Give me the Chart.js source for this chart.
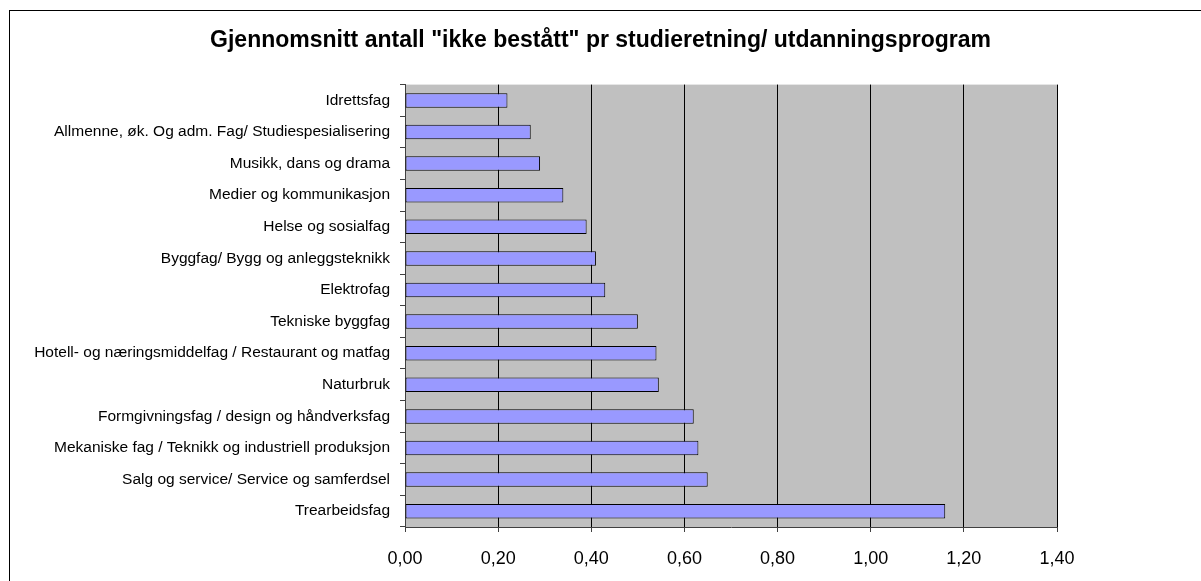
<!DOCTYPE html>
<html>
<head>
<meta charset="utf-8">
<script src="https://cdn.jsdelivr.net/npm/chart.js@4/dist/chart.umd.min.js"></script>
<style>
  body { margin: 0; background: #fff; }
</style>
</head>
<body>
<canvas id="barChart" width="1201" height="581"></canvas>
<script>
const categories = [
  'Idrettsfag',
  'Allmenne, øk. Og adm. Fag/ Studiespesialisering',
  'Musikk, dans og drama',
  'Medier og kommunikasjon',
  'Helse og sosialfag',
  'Byggfag/ Bygg og anleggsteknikk',
  'Elektrofag',
  'Tekniske byggfag',
  'Hotell- og næringsmiddelfag / Restaurant og matfag',
  'Naturbruk',
  'Formgivningsfag / design og håndverksfag',
  'Mekaniske fag / Teknikk og industriell produksjon',
  'Salg og service/ Service og samferdsel',
  'Trearbeidsfag'
];
const averages = [0.22, 0.27, 0.29, 0.34, 0.39, 0.41, 0.43, 0.50, 0.54, 0.545, 0.62, 0.63, 0.65, 1.16];
const axisMin = 0;
const axisMax = 1.4;
const axisStep = 0.2;

// grey plot area + outer chart border
const chartFrame = {
  id: 'chartFrame',
  afterLayout(chart) {
    // centre the title on the whole page, not on the padded area
    const t = chart.titleBlock;
    if (t) { t.left = 0; t.right = chart.width; t.width = chart.width; }
  },
  beforeDraw(chart) {
    const c = chart.ctx, a = chart.chartArea;
    c.save();
    c.fillStyle = '#ffffff';
    c.fillRect(0, 0, chart.width, chart.height);
    c.fillStyle = '#C0C0C0';
    c.fillRect(a.left, a.top, a.right - a.left, a.bottom - a.top);
    c.strokeStyle = '#000000';
    c.lineWidth = 1;
    c.strokeRect(9.5, 10.5, chart.width + 20, chart.height + 20);
    c.restore();
  }
};

const ctx = document.getElementById('barChart').getContext('2d');

var myChart = new Chart(ctx, {
  type: 'bar',
  data: {
    labels: categories,
    datasets: [{
      data: averages,
      backgroundColor: '#9999FF',
      borderColor: '#000000',
      borderWidth: 1,
      borderSkipped: false,
      barPercentage: 0.46,
      categoryPercentage: 1
    }]
  },
  options: {
    indexAxis: 'y',
    responsive: false,
    animation: false,
    devicePixelRatio: 1,
    layout: { padding: { left: 0, right: 144, top: 0, bottom: 0 } },
    plugins: {
      legend: { display: false },
      tooltip: { enabled: false },
      title: {
        display: true,
        text: 'Gjennomsnitt antall "ikke bestått" pr studieretning/ utdanningsprogram',
        color: '#000',
        font: { family: 'Liberation Sans, Arial, sans-serif', size: 23, weight: 'bold' },
        padding: { top: 27, bottom: 30 }
      }
    },
    scales: {
      x: {
        min: axisMin,
        max: axisMax,
        ticks: {
          stepSize: axisStep,
          color: '#000',
          padding: 16,
          font: { family: 'Liberation Sans, Arial, sans-serif', size: 18 },
          callback: v => v.toFixed(2).replace('.', ',')
        },
        grid: { color: '#000', lineWidth: 1, tickLength: 5, tickColor: '#404040' },
        border: { color: '#404040', width: 1 },
        afterFit: s => { s.height = 54; }
      },
      y: {
        ticks: {
          color: '#000',
          padding: 10,
          font: { family: 'Liberation Sans, Arial, sans-serif', size: 15.5 }
        },
        grid: { drawOnChartArea: false, drawTicks: true, tickLength: 5, color: '#404040', offset: true },
        border: { color: '#404040', width: 1 },
        afterFit: s => { s.width = 405; }
      }
    }
  },
  plugins: [chartFrame]
});
</script>
</body>
</html>
